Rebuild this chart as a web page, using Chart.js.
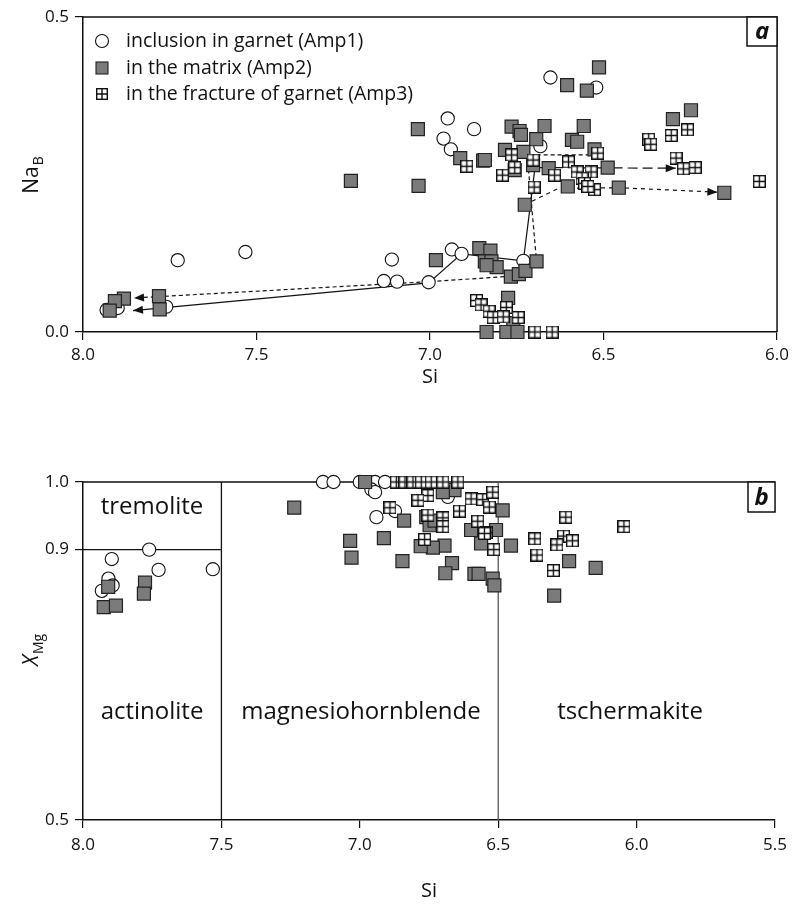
<!DOCTYPE html>
<html>
<head>
<meta charset="utf-8">
<script src="https://cdn.jsdelivr.net/npm/chart.js@4"></script>
<style>
    html, body { margin: 0; padding: 0; background: #fff; }
    .panel { position: relative; width: 794px; height: 458px; }
</style>
</head>
<body>
<div class="panel"><canvas id="chartA" width="794" height="458"></canvas></div>
<div class="panel"><canvas id="chartB" width="794" height="458"></canvas></div>
<script>
    "use strict";

    // ---- panel a : Si vs Na(B) ----
    var aXTicks = [8.0, 7.5, 7.0, 6.5, 6.0];
    var aYTicks = [0.0, 0.5];

    var amp1A = [
        [7.932, 0.035], [7.900, 0.038], [7.760, 0.040], [7.727, 0.114], [7.532, 0.127],
        [7.133, 0.081], [7.095, 0.080], [7.110, 0.115], [7.004, 0.079], [6.937, 0.131],
        [6.909, 0.124], [6.731, 0.113], [6.949, 0.339], [6.873, 0.322], [6.961, 0.307],
        [6.940, 0.290], [6.682, 0.295], [6.653, 0.404], [6.521, 0.388]
    ];
    var amp2A = [
        [7.882, 0.053], [7.908, 0.049], [7.923, 0.034], [7.781, 0.057], [7.779, 0.036],
        [7.228, 0.240], [7.035, 0.322], [7.033, 0.232], [6.983, 0.114],
        [6.858, 0.133], [6.826, 0.129], [6.842, 0.112], [6.823, 0.112], [6.808, 0.103],
        [6.837, 0.106], [6.767, 0.088], [6.744, 0.092], [6.725, 0.097], [6.693, 0.112],
        [6.727, 0.202], [6.775, 0.054], [6.760, 0.014], [6.837, 0.000], [6.780, 0.000],
        [6.748, 0.000], [6.513, 0.420], [6.605, 0.392], [6.548, 0.383], [6.248, 0.352],
        [6.300, 0.338], [6.765, 0.326], [6.742, 0.319], [6.738, 0.313], [6.670, 0.327],
        [6.557, 0.327], [6.591, 0.305], [6.576, 0.302], [6.694, 0.306], [6.526, 0.290],
        [6.784, 0.289], [6.731, 0.286], [6.913, 0.276], [6.847, 0.272], [6.842, 0.273],
        [6.703, 0.265], [6.658, 0.260], [6.756, 0.257], [6.488, 0.261], [6.603, 0.231],
        [6.456, 0.229], [6.152, 0.221]
    ];
    var amp3A = [
        [6.894, 0.263], [6.765, 0.281], [6.756, 0.261], [6.791, 0.249], [6.703, 0.273],
        [6.641, 0.249], [6.601, 0.270], [6.576, 0.254], [6.536, 0.254], [6.517, 0.284],
        [6.562, 0.244], [6.555, 0.236], [6.526, 0.226], [6.700, 0.230], [6.545, 0.231],
        [6.370, 0.306], [6.364, 0.298], [6.305, 0.312], [6.258, 0.321], [6.291, 0.276],
        [6.270, 0.259], [6.236, 0.261], [6.051, 0.239],
        [6.866, 0.050], [6.853, 0.043], [6.830, 0.033], [6.818, 0.023], [6.780, 0.039],
        [6.746, 0.023], [6.789, 0.024], [6.698, 0.000], [6.648, 0.000]
    ];

    // zoning trends (arrow at the last point)
    var solidTrend = [[6.695, 0.272], [6.731, 0.113], [6.909, 0.124], [7.004, 0.078], [7.856, 0.034]];
    var dashTrend = [[6.54, 0.281], [6.72, 0.281], [6.694, 0.118], [6.78, 0.088], [7.0, 0.080], [7.853, 0.054]];
    var longDashTrend = [[6.69, 0.261], [6.292, 0.260]];
    var shortDashTrend = [[6.727, 0.202], [6.63, 0.228], [6.456, 0.229], [6.172, 0.222]];

    // ---- panel b : Si vs X(Mg) ----
    var bXTicks = [8.0, 7.5, 7.0, 6.5, 6.0, 5.5];
    var bYTicks = [0.5, 0.9, 1.0];

    var amp1B = [
        [7.761, 0.900], [7.896, 0.886], [7.727, 0.870], [7.531, 0.871], [7.908, 0.857],
        [7.893, 0.847], [7.932, 0.839], [7.133, 1.000], [7.095, 1.000], [7.000, 1.000],
        [6.945, 1.000], [6.909, 1.000], [6.958, 0.989], [6.945, 0.985], [6.940, 0.948],
        [6.873, 0.957], [6.682, 0.978]
    ];
    var amp2B = [
        [7.909, 0.845], [7.776, 0.851], [7.780, 0.835], [7.925, 0.815], [7.881, 0.817],
        [7.237, 0.962], [6.981, 1.000], [6.840, 0.943], [7.035, 0.913], [6.913, 0.917],
        [7.030, 0.888], [6.846, 0.883], [6.760, 0.948], [6.748, 0.936], [6.730, 0.943],
        [6.694, 0.906], [6.736, 0.903], [6.780, 0.905], [6.667, 0.880], [6.691, 0.865],
        [6.658, 0.988], [6.700, 0.985], [6.598, 0.929], [6.586, 0.864], [6.571, 0.864],
        [6.520, 0.857], [6.514, 0.847], [6.562, 0.909], [6.508, 0.929], [6.484, 0.958],
        [6.454, 0.906], [6.244, 0.883], [6.148, 0.873], [6.298, 0.832]
    ];
    var amp3B = [
        [6.868, 1.000], [6.837, 1.000], [6.808, 1.000], [6.778, 1.000], [6.742, 1.000],
        [6.700, 1.000], [6.646, 1.000],
        [6.754, 0.980], [6.790, 0.973], [6.891, 0.962], [6.754, 0.951], [6.700, 0.947],
        [6.700, 0.934], [6.766, 0.915], [6.640, 0.957], [6.598, 0.975], [6.556, 0.974],
        [6.520, 0.985], [6.532, 0.963], [6.574, 0.942], [6.544, 0.925], [6.516, 0.900],
        [6.550, 0.924], [6.256, 0.948], [6.046, 0.934], [6.368, 0.916], [6.264, 0.920],
        [6.232, 0.913], [6.288, 0.907], [6.360, 0.892], [6.301, 0.869]
    ];

    var legendLabels = ["inclusion in garnet (Amp1)", "in the matrix (Amp2)", "in the fracture of garnet (Amp3)"];

    var FONT = '"Open Sans", "Noto Sans", sans-serif';

    // crossed square marker (Amp3)
    function makeCrossBox(size) {
        var c = document.createElement("canvas");
        c.width = size;
        c.height = size;
        var g = c.getContext("2d");
        g.fillStyle = "#fff";
        g.fillRect(0, 0, size, size);
        g.strokeStyle = "#111";
        g.lineWidth = 1.4;
        g.strokeRect(0.7, 0.7, size - 1.4, size - 1.4);
        g.beginPath();
        g.moveTo(size / 2, 0.7);
        g.lineTo(size / 2, size - 0.7);
        g.moveTo(0.7, size / 2);
        g.lineTo(size - 0.7, size / 2);
        g.stroke();
        return c;
    }
    var crossBox = makeCrossBox(13);
    var crossBoxSmall = makeCrossBox(12);

    function toXY(arr) {
        return arr.map(function(p) { return { x: p[0], y: p[1] }; });
    }

    function makeDatasets(c1, c2, c3) {
        return [{
            label: legendLabels[2], data: toXY(c3), pointStyle: crossBox,
            pointRadius: 6.5, clip: false, order: 1
        }, {
            label: legendLabels[1], data: toXY(c2), pointStyle: "rect",
            pointRadius: 9.2, backgroundColor: "#7b7b7b", borderColor: "#222",
            pointBorderWidth: 1.2, clip: false, order: 2
        }, {
            label: legendLabels[0], data: toXY(c1), pointStyle: "circle",
            pointRadius: 6.6, backgroundColor: "#fff", borderColor: "#111",
            pointBorderWidth: 1.1, clip: false, order: 3
        }];
    }

    function axisOpts(min, max, ticks, reverse, isX, size, pad) {
        return {
            type: "linear", min: min, max: max, reverse: reverse,
            afterBuildTicks: function(s) {
                s.ticks = ticks.map(function(v) { return { value: v }; });
            },
            afterFit: function(s) {
                if (isX) { s.height = size; } else { s.width = size; }
            },
            ticks: {
                color: "#111", padding: pad, autoSkip: false, maxRotation: 0,
                font: { family: FONT, size: 17 },
                callback: function(v) { return Number(v).toFixed(1); }
            },
            grid: { drawOnChartArea: false, drawTicks: true, tickLength: 8, color: "#111", lineWidth: 1.2 },
            border: { display: true, color: "#111", width: 1.5 }
        };
    }

    function px(chart, p) {
        return [chart.scales.x.getPixelForValue(p[0]), chart.scales.y.getPixelForValue(p[1])];
    }

    function drawTrend(chart, pts, dash) {
        var ctx = chart.ctx;
        var q = pts.map(function(p) { return px(chart, p); });
        ctx.save();
        ctx.strokeStyle = "#111";
        ctx.lineWidth = 1.2;
        ctx.setLineDash(dash);
        ctx.beginPath();
        ctx.moveTo(q[0][0], q[0][1]);
        for (var i = 1; i < q.length; i++) {
            ctx.lineTo(q[i][0], q[i][1]);
        }
        ctx.stroke();
        // arrow head
        var a = q[q.length - 2], b = q[q.length - 1];
        var ang = Math.atan2(b[1] - a[1], b[0] - a[0]);
        ctx.setLineDash([]);
        ctx.fillStyle = "#111";
        ctx.translate(b[0], b[1]);
        ctx.rotate(ang);
        ctx.beginPath();
        ctx.moveTo(0, 0);
        ctx.lineTo(-10, -4);
        ctx.lineTo(-10, 4);
        ctx.closePath();
        ctx.fill();
        ctx.restore();
    }

    function drawYTitle(ctx, x, y, main, sub, italic) {
        ctx.save();
        ctx.translate(x, y);
        ctx.rotate(-Math.PI / 2);
        var f1 = (italic ? "italic " : "") + "21px " + FONT;
        var f2 = "14px " + FONT;
        ctx.font = f1;
        var w1 = ctx.measureText(main).width;
        ctx.font = f2;
        var w2 = ctx.measureText(sub).width;
        var x0 = -(w1 + w2 + 1) / 2;
        ctx.fillStyle = "#111";
        ctx.textBaseline = "middle";
        ctx.textAlign = "left";
        ctx.font = f1;
        ctx.fillText(main, x0, 0);
        ctx.font = f2;
        ctx.fillText(sub, x0 + w1 + 1, 7);
        ctx.restore();
    }

    function drawText(ctx, txt, x, y, size, align) {
        ctx.save();
        ctx.fillStyle = "#111";
        ctx.font = size + "px " + FONT;
        ctx.textAlign = align || "center";
        ctx.textBaseline = "middle";
        ctx.fillText(txt, x, y);
        ctx.restore();
    }

    function drawPanelLetter(ctx, x, y, w, h, letter) {
        ctx.save();
        ctx.fillStyle = "#fff";
        ctx.fillRect(x, y, w, h);
        ctx.strokeStyle = "#111";
        ctx.lineWidth = 1.5;
        ctx.strokeRect(x, y, w, h);
        ctx.fillStyle = "#111";
        ctx.font = "italic bold 24px " + FONT;
        ctx.textAlign = "center";
        ctx.textBaseline = "middle";
        ctx.fillText(letter, x + w / 2, y + h / 2 + 1);
        ctx.restore();
    }

    var decorA = {
        id: "decorA",
        beforeDatasetsDraw: function(chart) {
            drawTrend(chart, solidTrend, []);
            drawTrend(chart, dashTrend, [4, 3]);
            drawTrend(chart, longDashTrend, [10, 5]);
            drawTrend(chart, shortDashTrend, [4, 4]);
        },
        afterDraw: function(chart) {
            var ctx = chart.ctx;
            var ca = chart.chartArea;
            ctx.save();
            ctx.strokeStyle = "#111";
            ctx.lineWidth = 1.5;
            ctx.beginPath();
            ctx.moveTo(ca.left, ca.top);
            ctx.lineTo(ca.right, ca.top);
            ctx.lineTo(ca.right, ca.bottom);
            ctx.stroke();
            ctx.restore();

            // legend
            var lx = 102, ly = [41, 68, 94];
            ctx.save();
            ctx.beginPath();
            ctx.arc(lx, ly[0], 6.5, 0, Math.PI * 2);
            ctx.fillStyle = "#fff";
            ctx.fill();
            ctx.strokeStyle = "#111";
            ctx.lineWidth = 1.1;
            ctx.stroke();
            ctx.fillStyle = "#7b7b7b";
            ctx.fillRect(lx - 6, ly[1] - 6, 12, 12);
            ctx.strokeStyle = "#222";
            ctx.strokeRect(lx - 6, ly[1] - 6, 12, 12);
            ctx.drawImage(crossBoxSmall, lx - 6, ly[2] - 6);
            ctx.restore();
            for (var i = 0; i < 3; i++) {
                drawText(ctx, legendLabels[i], 126, ly[i], 19.5, "left");
            }

            drawPanelLetter(ctx, 747, ca.top, ca.right - 747, 29, "a");
            drawYTitle(ctx, 32, 175, "Na", "B", false);
            drawText(ctx, "Si", (ca.left + ca.right) / 2, 377, 20);
        }
    };

    var decorB = {
        id: "decorB",
        beforeDatasetsDraw: function(chart) {
            var ctx = chart.ctx;
            var xs = chart.scales.x, ys = chart.scales.y;
            var ca = chart.chartArea;
            ctx.save();
            ctx.strokeStyle = "#111";
            ctx.lineWidth = 1.3;
            ctx.beginPath();
            // Xmg = 1.0 limit
            ctx.moveTo(ca.left, ys.getPixelForValue(1.0));
            ctx.lineTo(ca.right, ys.getPixelForValue(1.0));
            // tremolite / actinolite boundary
            ctx.moveTo(ca.left, ys.getPixelForValue(0.9));
            ctx.lineTo(xs.getPixelForValue(7.5), ys.getPixelForValue(0.9));
            ctx.moveTo(xs.getPixelForValue(7.5), ca.top);
            ctx.lineTo(xs.getPixelForValue(7.5), ca.bottom);
            ctx.stroke();
            ctx.strokeStyle = "#555";
            ctx.beginPath();
            ctx.moveTo(xs.getPixelForValue(6.5), ca.top);
            ctx.lineTo(xs.getPixelForValue(6.5), ca.bottom);
            ctx.stroke();
            ctx.restore();
        },
        afterDraw: function(chart) {
            var ctx = chart.ctx;
            var ca = chart.chartArea;
            drawText(ctx, "tremolite", 152, 49, 24);
            drawText(ctx, "actinolite", 152, 254, 24);
            drawText(ctx, "magnesiohornblende", 361, 254, 24);
            drawText(ctx, "tschermakite", 630, 254, 24);
            drawPanelLetter(ctx, 748, ca.top, ca.right - 748, 30, "b");
            drawYTitle(ctx, 32, 192, "X", "Mg", true);
            drawText(ctx, "Si", (ca.left + ca.right) / 2, 433, 20);
        }
    };

    function commonOptions(padTop, padRight) {
        return {
            responsive: false,
            animation: false,
            events: [],
            layout: { padding: { top: padTop, right: padRight, left: 0, bottom: 0 } },
            plugins: { legend: { display: false }, tooltip: { enabled: false } }
        };
    }

    var optsA = commonOptions(17, 14);
    optsA.scales = {
        x: axisOpts(6.0, 8.0, aXTicks, true, true, 126, 5),
        y: axisOpts(0.0, 0.5, aYTicks, false, false, 83, 6)
    };
    new Chart(document.getElementById("chartA"), {
        type: "scatter",
        data: { datasets: makeDatasets(amp1A, amp2A, amp3A) },
        options: optsA,
        plugins: [decorA]
    });

    var optsB = commonOptions(24, 15);
    optsB.scales = {
        x: axisOpts(5.5, 8.0, bXTicks, true, true, 96, 7),
        y: axisOpts(0.5, 1.0, bYTicks, false, false, 83, 6)
    };
    new Chart(document.getElementById("chartB"), {
        type: "scatter",
        data: { datasets: makeDatasets(amp1B, amp2B, amp3B) },
        options: optsB,
        plugins: [decorB]
    });
</script>
</body>
</html>
